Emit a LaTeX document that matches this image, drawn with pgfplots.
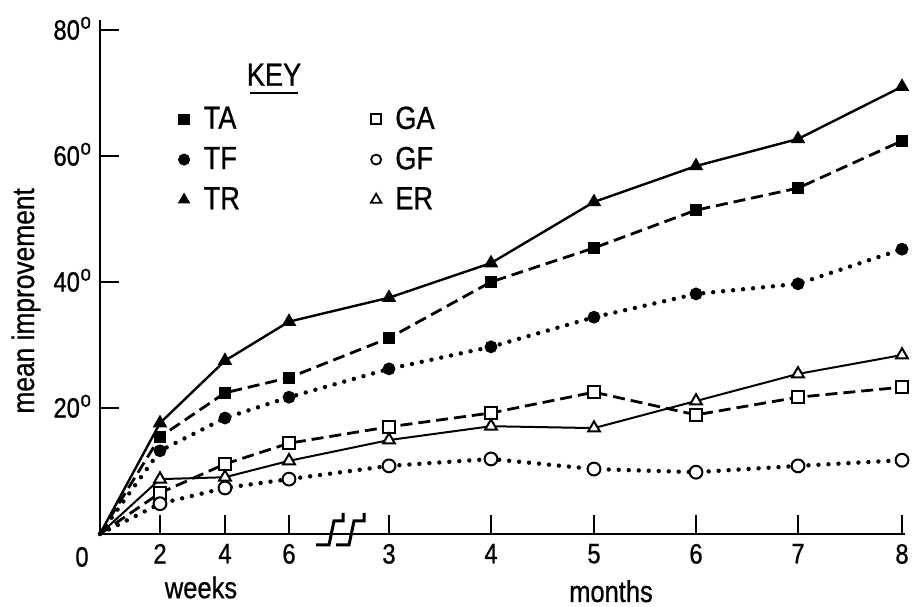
\documentclass[border=0pt]{standalone}
\usepackage{pgfplots}
\usepackage{pgfplotstable}
\pgfplotsset{compat=1.18}
\usepackage{fontspec}
\setmainfont{Liberation Sans}[FakeStretch=0.85, FakeBold=0.8]

% Mean improvement (degrees) per group. Column "pos" is the horizontal
% position on the broken time axis: 0, 2, 4, 6 weeks, then 3 ... 8 months.
\pgfplotstableread{
pos  TA    TF    TR    GA    GF    ER
0    0     0     0     0     0     0
60   15.4  13.2  17.6  6.5   4.8   8.7
125  22.4  18.4  27.5  11.1  7.3   9.0
189  24.8  21.7  33.7  14.4  8.7   11.6
289  31.1  26.2  37.5  17.0  10.8  14.9
391  40.0  29.7  43.0  19.2  11.9  17.1
494  45.4  34.4  52.7  22.5  10.3  16.8
596  51.4  38.1  58.4  18.9  9.8   21.1
698  54.9  39.7  62.7  21.7  10.8  25.4
802  62.4  45.2  71.0  23.3  11.7  28.4
}\improvement

% tick value with a raised degree circle that does not take up width
\newcommand{\degval}[1]{#1\rlap{\smash{\hspace{0.3pt}\raisebox{5.5pt}{\fontsize{11}{11}\selectfont o}}}}

\begin{document}
\begin{tikzpicture}
\begin{axis}[
  scale only axis, width=402.5pt, height=257pt,
  xmin=0, xmax=805, ymin=0, ymax=81.6,
  axis lines*=left,
  axis line style={line width=1.4pt, black},
  tick align=inside, major tick length=9.5pt,
  tick style={line width=1.2pt, black},
  xtick={60,125,189,289,391,494,596,698,802},
  xticklabels={2,4,6,3,4,5,6,7,8},
  ytick={20,40,60,80},
  yticklabels={\degval{20},\degval{40},\degval{60},\degval{80}},
  /pgf/number format/assume math mode=true,
  every tick label/.append style={font=\fontsize{14}{16}\selectfont},
  xticklabel style={yshift=-1.5pt},
  yticklabel style={xshift=-6.5pt},
  clip=false,
  legend columns=2,
  legend cell align=left,
  legend image code/.code={\draw[#1] plot coordinates {(0pt,0pt)};},
  legend style={at={(0.097,0.84)}, anchor=north west, draw=none, fill=none,
    inner sep=0pt, row sep=3.5pt,
    font=\fontsize{16}{18}\selectfont,
    /tikz/every odd column/.append style={column sep=5pt},
    /tikz/every even column/.append style={column sep=63.5pt}},
]
% groups T (filled marks) and G/E (open marks); no mark at the origin
\addplot[forget plot, mark indices={2,...,10}, line width=1.4pt, dash pattern=on 6pt off 3pt,
  mark=square*, mark size=2.6pt, mark options={solid, line width=0.8pt, fill=black}]
  table[x=pos, y=TA] {\improvement};
\addplot[forget plot, mark indices={2,...,10}, line width=2.2pt, line cap=round, dash pattern=on 0pt off 5pt,
  mark=*, mark size=2.8pt, mark options={solid, line width=0.8pt, fill=black}]
  table[x=pos, y=TF] {\improvement};
\addplot[forget plot, mark indices={2,...,10}, line width=1.2pt,
  mark=triangle*, mark size=3.4pt, mark options={solid, line width=0.8pt, fill=black}]
  table[x=pos, y=TR] {\improvement};
\addplot[forget plot, mark indices={2,...,10}, line width=1.4pt, dash pattern=on 6pt off 3pt,
  mark=square*, mark size=3pt, mark options={solid, line width=1pt, fill=white}]
  table[x=pos, y=GA] {\improvement};
\addplot[forget plot, mark indices={2,...,10}, line width=2.2pt, line cap=round, dash pattern=on 0pt off 5pt,
  mark=*, mark size=3.2pt, mark options={solid, line width=1pt, fill=white}]
  table[x=pos, y=GF] {\improvement};
\addplot[forget plot, mark indices={2,...,10}, line width=1pt,
  mark=triangle*, mark size=3.4pt, mark options={solid, line width=1pt, fill=white}]
  table[x=pos, y=ER] {\improvement};

% key
\addlegendimage{only marks, mark=square*, mark size=2.6pt, mark options={fill=black}}
\addlegendentry{TA}
\addlegendimage{only marks, mark=square*, mark size=2.5pt, mark options={fill=white, line width=0.9pt}}
\addlegendentry{GA}
\addlegendimage{only marks, mark=*, mark size=2.8pt, mark options={fill=black}}
\addlegendentry{TF}
\addlegendimage{only marks, mark=*, mark size=2.5pt, mark options={fill=white, line width=0.9pt}}
\addlegendentry{GF}
\addlegendimage{only marks, mark=triangle*, mark size=3.2pt, mark options={fill=black}}
\addlegendentry{TR}
\addlegendimage{only marks, mark=triangle*, mark size=3pt, mark options={fill=white, line width=0.9pt}}
\addlegendentry{ER}

\node[font=\fontsize{16}{18}\selectfont] at (axis cs:174,72.9) {KEY};
\draw[line width=1.4pt] (axis cs:150,70.0) -- (axis cs:198,70.0);

% axis break marks
\draw[line width=1.5pt] (axis cs:243,3.33) -- (axis cs:243,2.06) -- (axis cs:234,2.06)
  -- (axis cs:229,-1.75) -- (axis cs:216,-1.75);
\draw[line width=1.5pt] (axis cs:264,3.33) -- (axis cs:264,2.06) -- (axis cs:254,2.06)
  -- (axis cs:249,-1.75) -- (axis cs:236,-1.75);

% labels
\node[font=\fontsize{14}{16}\selectfont] at (axis cs:-18,-3.65) {0};
\node[rotate=90, font=\fontsize{15.5}{17}\selectfont] at (axis cs:-74,37) {mean improvement};
\node[anchor=base, font=\fontsize{15}{17}\selectfont] at (axis cs:101,-10.2) {weeks};
\node[anchor=base, font=\fontsize{15}{17}\selectfont] at (axis cs:511,-10.8) {months};

\coordinate (bbsw) at (axis cs:-100,-11.59);
\coordinate (bbne) at (axis cs:813,84.76);
\end{axis}
\pgfresetboundingbox
\path[use as bounding box] (bbsw) rectangle (bbne);
\end{tikzpicture}
\end{document}
